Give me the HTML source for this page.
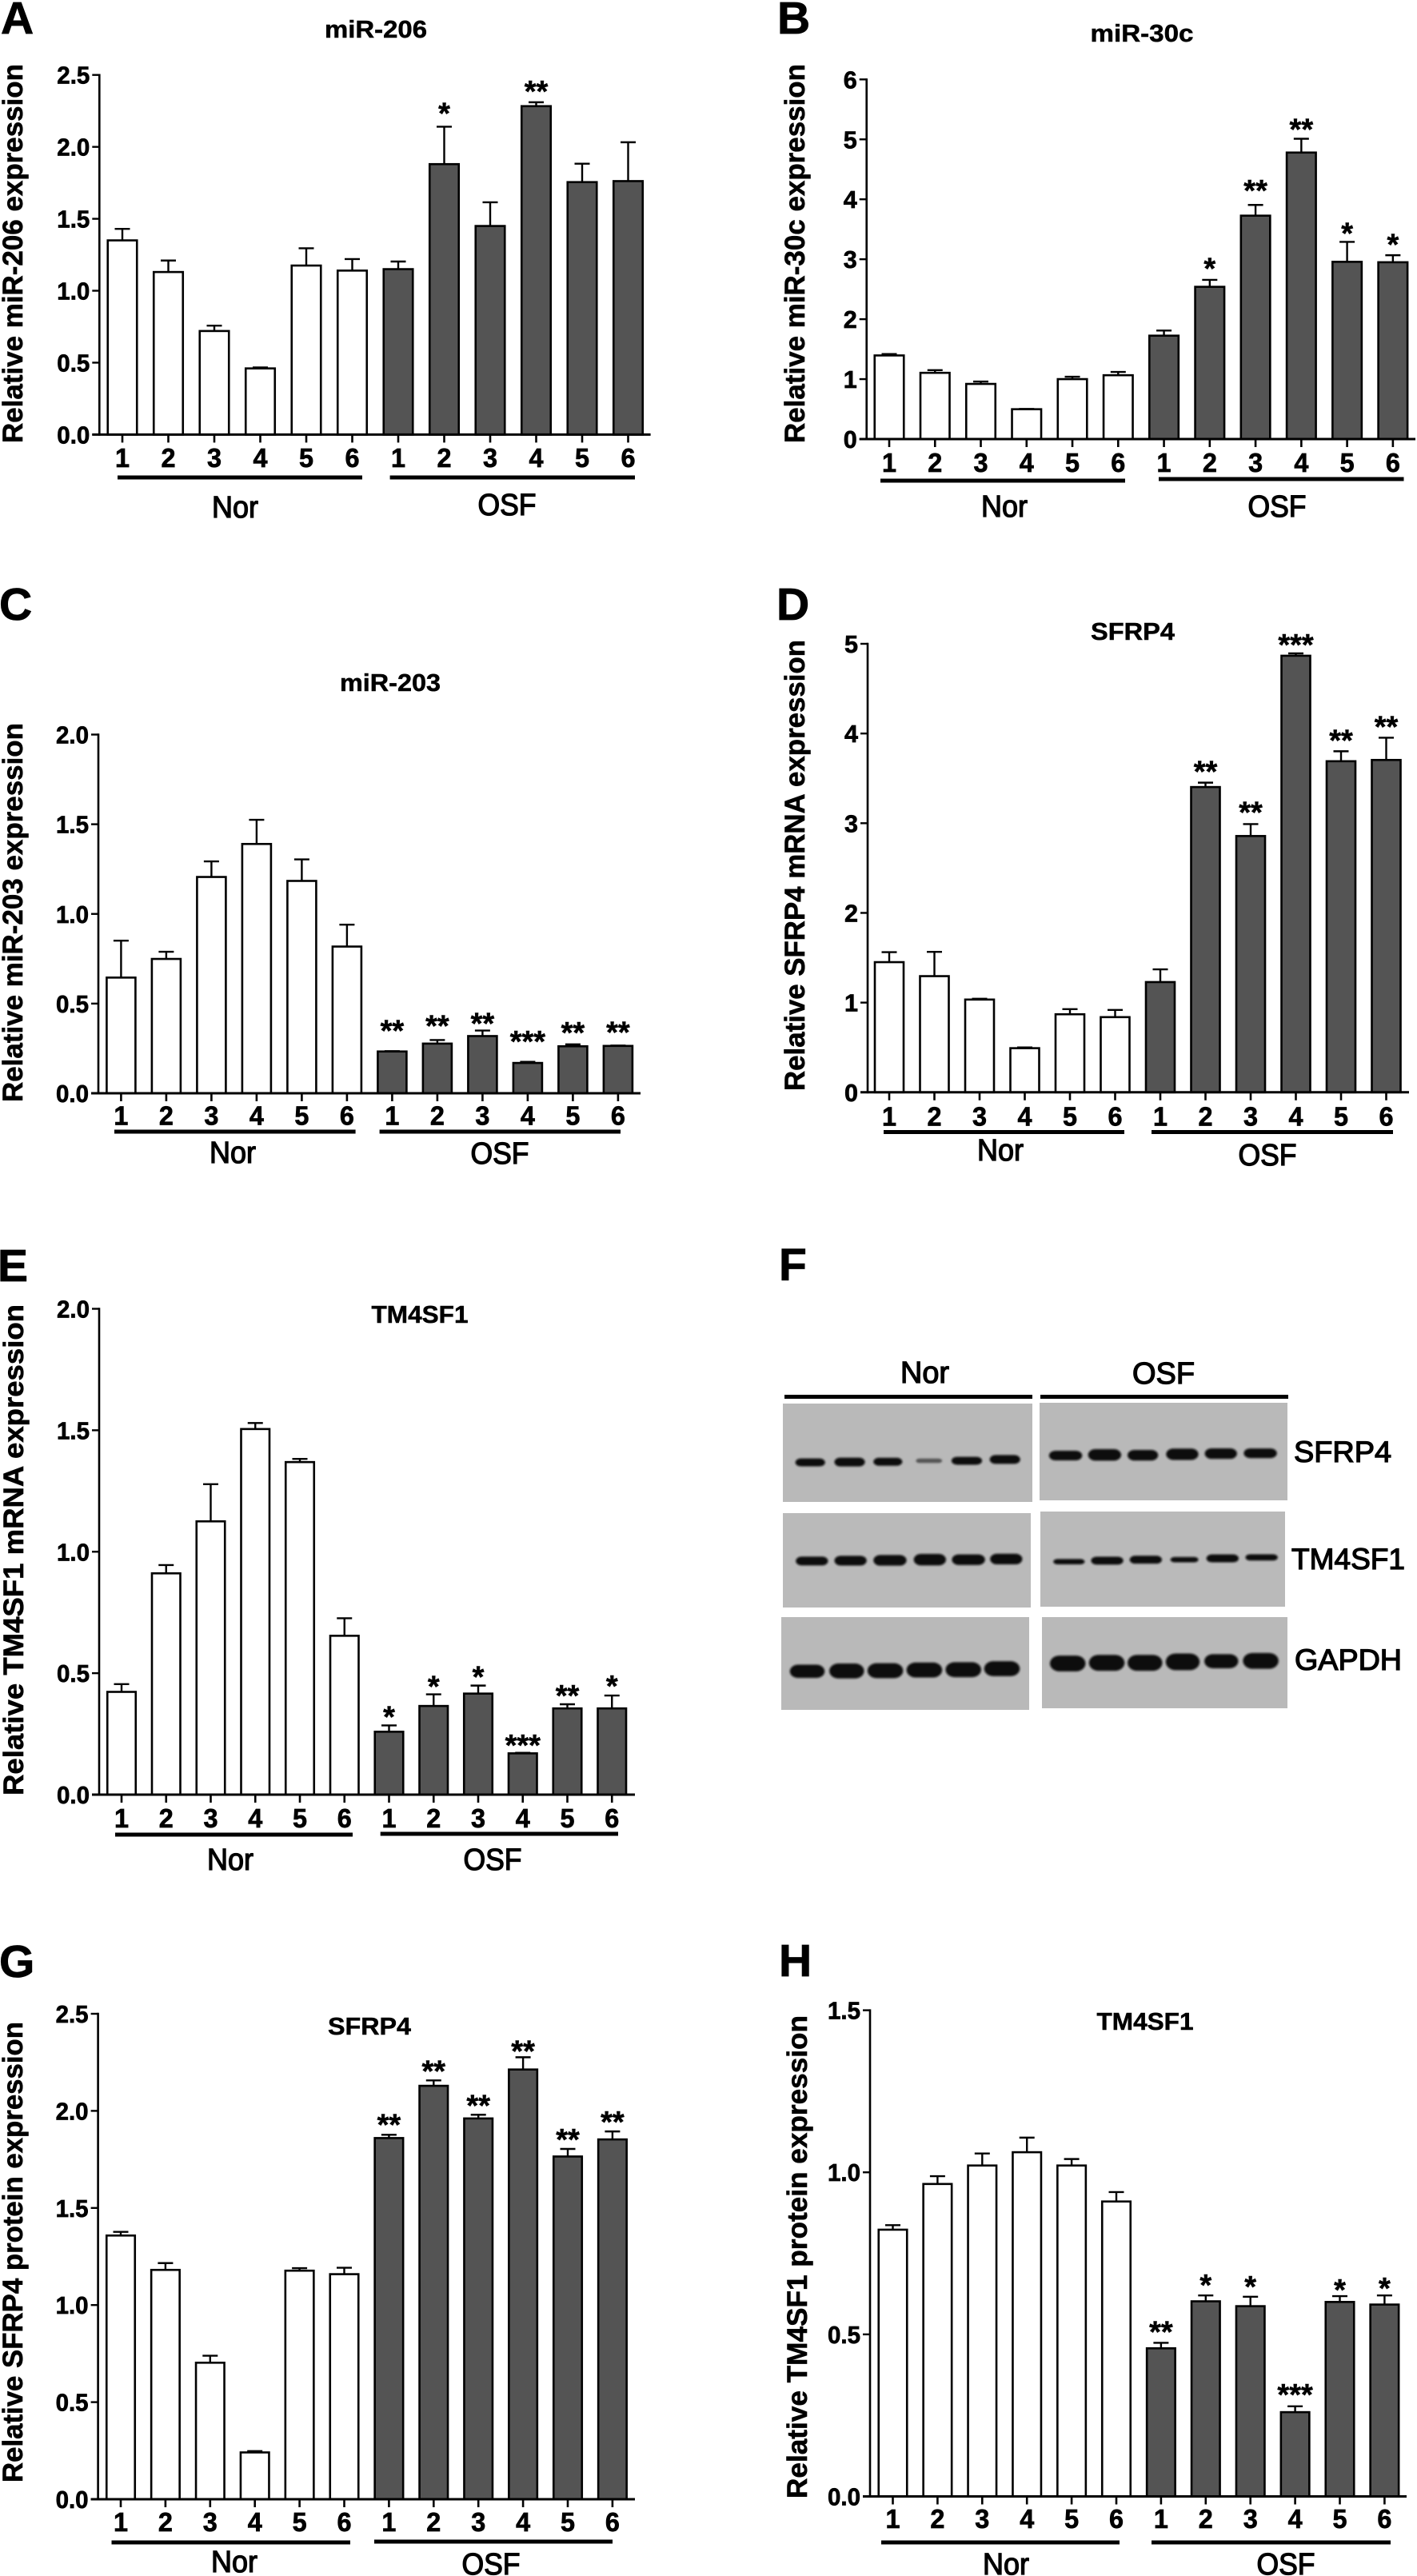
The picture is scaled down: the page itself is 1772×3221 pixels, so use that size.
<!DOCTYPE html>
<html lang="en">
<head>
<meta charset="utf-8">
<title>miRNA and target expression in Nor and OSF samples</title>
<style>
html,body{margin:0;padding:0;background:#fff;}
svg{display:block;}
text{font-family:"Liberation Sans",sans-serif;fill:#000;}
</style>
</head>
<body>
<svg id="figure" xmlns="http://www.w3.org/2000/svg" width="1772" height="3221" viewBox="0 0 1772 3221">
  <rect x="0" y="0" width="1772" height="3221" fill="#ffffff"/>

  <g id="panel-f">
    <text x="974" y="1601" font-size="57" font-weight="700" stroke="#000" stroke-width="0.8">F</text>
    <text x="1126" y="1729" font-size="38" stroke="#000" stroke-width="1.3" textLength="61" lengthAdjust="spacingAndGlyphs">Nor</text>
    <text x="1416" y="1730" font-size="38" stroke="#000" stroke-width="1.3" textLength="78" lengthAdjust="spacingAndGlyphs">OSF</text>
    <rect x="981" y="1744" width="310" height="5" fill="#000"/>
    <rect x="1301" y="1744" width="310" height="5" fill="#000"/>
    <rect x="979" y="1755" width="312" height="123" fill="#b9b9b9"/>
    <rect x="1300" y="1754" width="310" height="122" fill="#b9b9b9"/>
    <rect x="979" y="1892" width="310" height="118" fill="#bababa"/>
    <rect x="1301" y="1890" width="306" height="119" fill="#bababa"/>
    <rect x="977" y="2022" width="310" height="116" fill="#b9b9b9"/>
    <rect x="1303" y="2022" width="307" height="114" fill="#b9b9b9"/>
    <g id="blot-bands" filter="url(#bandBlur)"></g>
    <text x="1618" y="1828" font-size="37" stroke="#000" stroke-width="1.3" textLength="122" lengthAdjust="spacingAndGlyphs">SFRP4</text>
    <text x="1615" y="1962" font-size="37" stroke="#000" stroke-width="1.3" textLength="142" lengthAdjust="spacingAndGlyphs">TM4SF1</text>
    <text x="1619" y="2088" font-size="37" stroke="#000" stroke-width="1.3" textLength="134" lengthAdjust="spacingAndGlyphs">GAPDH</text>
  </g>
  <defs>
    <filter id="bandBlur" x="-10%" y="-10%" width="120%" height="120%"><feGaussianBlur stdDeviation="1.2"/></filter>
  </defs>
</svg>

<script>
// Shared categories
const sampleLabels = ['1','2','3','4','5','6','1','2','3','4','5','6'];

// Panel A: miR-206
const panelAMeans = [1.35,1.13,0.72,0.46,1.175,1.14,1.15,1.88,1.45,2.283,1.755,1.762];
const panelAErrors = [0.08,0.08,0.037,0.007,0.12,0.08,0.053,0.26,0.165,0.027,0.128,0.27];
const panelAStars = ['','','','','','','','*','','**','',''];
const panelATicks = ['0.0','0.5','1.0','1.5','2.0','2.5'];

// Panel B: miR-30c
const panelBMeans = [1.395,1.105,0.92,0.498,1.0,1.065,1.725,2.54,3.727,4.78,2.957,2.95];
const panelBErrors = [0.023,0.045,0.04,0.005,0.04,0.055,0.085,0.116,0.179,0.23,0.333,0.117];
const panelBStars = ['','','','','','','','*','**','**','*','*'];
const panelBTicks = ['0','1','2','3','4','5','6'];

// Panel C: miR-203
const panelCMeans = [0.645,0.749,1.206,1.39,1.184,0.818,0.233,0.277,0.319,0.169,0.262,0.264];
const panelCErrors = [0.206,0.04,0.087,0.135,0.12,0.122,0.002,0.02,0.031,0.006,0.011,0.002];
const panelCStars = ['','','','','','','**','**','**','***','**','**'];
const panelCTicks = ['0.0','0.5','1.0','1.5','2.0'];

// Panel D: SFRP4 mRNA
const panelDMeans = [1.451,1.295,1.034,0.492,0.87,0.838,1.229,3.403,2.857,4.867,3.691,3.705];
const panelDErrors = [0.111,0.271,0.009,0.008,0.057,0.08,0.142,0.049,0.133,0.026,0.111,0.248];
const panelDStars = ['','','','','','','','**','**','***','**','**'];
const panelDTicks = ['0','1','2','3','4','5'];

// Panel E: TM4SF1 mRNA
const panelEMeans = [0.423,0.911,1.125,1.505,1.369,0.654,0.259,0.365,0.416,0.17,0.355,0.355];
const panelEErrors = [0.032,0.034,0.153,0.025,0.013,0.072,0.026,0.048,0.033,0.002,0.017,0.053];
const panelEStars = ['','','','','','','*','*','*','***','**','*'];
const panelETicks = ['0.0','0.5','1.0','1.5','2.0'];

// Panel G: SFRP4 protein
const panelGMeans = [1.358,1.181,0.703,0.241,1.177,1.159,1.86,2.129,1.961,2.213,1.765,1.853];
const panelGErrors = [0.019,0.035,0.036,0.007,0.013,0.033,0.017,0.028,0.019,0.063,0.039,0.041];
const panelGStars = ['','','','','','','**','**','**','**','**','**'];
const panelGTicks = ['0.0','0.5','1.0','1.5','2.0','2.5'];

// Panel H: TM4SF1 protein
const panelHMeans = [0.823,0.964,1.021,1.062,1.021,0.91,0.457,0.602,0.587,0.26,0.6,0.592];
const panelHErrors = [0.014,0.024,0.037,0.045,0.02,0.029,0.017,0.018,0.029,0.018,0.018,0.028];
const panelHStars = ['','','','','','','**','*','*','***','*','*'];
const panelHTicks = ['0.0','0.5','1.0','1.5'];

const SVG_NS = 'http://www.w3.org/2000/svg';
const figure = document.getElementById('figure');

function mk(tag, attrs, parent, txt) {
  const el = document.createElementNS(SVG_NS, tag);
  for (const k in attrs) el.setAttribute(k, attrs[k]);
  if (txt !== undefined) el.textContent = txt;
  parent.appendChild(el);
  return el;
}

function drawPanel(p) {
  const g = mk('g', {}, figure);
  
  

  const tickValues = p.ticks.map(Number);
  const maxTick = Math.max.apply(null, tickValues);
  const xPos = function (i) { return p.x0 + i * p.step; };
  const yPos = function (v) { return p.y0 - (v / maxTick) * (p.y0 - p.yTop); };

  const letter = mk('text', {x: p.letterX, y: p.letterY, 'font-size': 57, 'font-weight': 700, stroke: '#000', 'stroke-width': 0.8}, g, p.letter);
  
  

  const title = mk('text', {x: p.titleX - p.titleLen / 2, y: p.titleY, 'font-size': 31, 'font-weight': 700, stroke: '#000', 'stroke-width': 0.5, textLength: p.titleLen, lengthAdjust: 'spacingAndGlyphs'}, g, p.title);
  
  

  const yTitle = mk('text', {x: p.ylabX, y: p.ylabBottom, 'font-size': 35, 'font-weight': 700, stroke: '#000', 'stroke-width': 0.6, textLength: p.ylabLen, lengthAdjust: 'spacingAndGlyphs', transform: 'rotate(-90 ' + p.ylabX + ' ' + p.ylabBottom + ')'}, g, p.ylabel);
  
  

  // bars and error bars
  p.means.forEach(function (m, i) {
    const cx = xPos(i);
    const top = yPos(m + p.errors[i]);
    const capHalf = 9.5;
    const stem = mk('line', {x1: cx, x2: cx, y1: yPos(m), y2: top, stroke: '#000', 'stroke-width': 2.4}, g);
    
    
    const cap = mk('line', {x1: cx - capHalf, x2: cx + capHalf, y1: top, y2: top, stroke: '#000', 'stroke-width': 2.4}, g);
    
    
    const bar = mk('rect', {x: cx - p.barW / 2, y: yPos(m), width: p.barW, height: p.y0 - yPos(m), fill: i < 6 ? '#ffffff' : '#545454', stroke: '#000', 'stroke-width': 2.6}, g);
    
    

    const tick = mk('line', {x1: cx, x2: cx, y1: p.y0, y2: p.y0 + 10, stroke: '#000', 'stroke-width': 2.6}, g);
    
    
    const lab = mk('text', {x: cx - 9, y: p.digitY + 1, 'font-size': 33, 'font-weight': 700, stroke: '#000', 'stroke-width': 0.7, textLength: 18, lengthAdjust: 'spacingAndGlyphs'}, g, sampleLabels[i]);
    
    

    if (p.stars[i]) {
      const lift = p.starLift[i];
      const star = mk('text', {x: cx, y: top - lift + 18, 'font-size': 38, 'font-weight': 700, stroke: '#000', 'stroke-width': 0.5, 'text-anchor': 'middle'}, g, p.stars[i]);
      
      
    }
  });

  // axes
  const yAxis = mk('line', {x1: p.axisX, x2: p.axisX, y1: p.yTop - 1.2, y2: p.y0 + 1.3, stroke: '#000', 'stroke-width': 2.6}, g);
  
  
  const xAxis = mk('line', {x1: p.axisX - 9, x2: p.axisEnd, y1: p.y0, y2: p.y0, stroke: '#000', 'stroke-width': 3}, g);
  
  

  p.ticks.forEach(function (t, i) {
    const y = yPos(tickValues[i]);
    const tick = mk('line', {x1: p.axisX - 9, x2: p.axisX, y1: y, y2: y, stroke: '#000', 'stroke-width': 2.4}, g);
    
    
    const labLen = t.length > 1 ? 41 : 17;
    const lab = mk('text', {x: p.axisX - 12 - labLen, y: y + 11, 'font-size': 31, 'font-weight': 700, stroke: '#000', 'stroke-width': 0.7, textLength: labLen, lengthAdjust: 'spacingAndGlyphs'}, g, t);
    
    
  });

  // group brackets and labels
  const norLine = mk('rect', {x: p.norLine[0], y: p.norLine[2] - 2.5, width: p.norLine[1] - p.norLine[0], height: 5, fill: '#000'}, g);
  
  
  const osfLine = mk('rect', {x: p.osfLine[0], y: p.osfLine[2] - 2.5, width: p.osfLine[1] - p.osfLine[0], height: 5, fill: '#000'}, g);
  
  
  const norLab = mk('text', {x: p.norLab[0] - 29, y: p.norLab[1], 'font-size': 38, stroke: '#000', 'stroke-width': 1.3, textLength: 58, lengthAdjust: 'spacingAndGlyphs'}, g, 'Nor');
  
  
  const osfLab = mk('text', {x: p.osfLab[0] - 36.5, y: p.osfLab[1], 'font-size': 38, stroke: '#000', 'stroke-width': 1.3, textLength: 73, lengthAdjust: 'spacingAndGlyphs'}, g, 'OSF');
  
  
}

drawPanel({letter:'A', letterX:1, letterY:42, title:'miR-206', titleX:470, titleY:47, titleLen:128,
  ylabel:'Relative miR-206 expression', ylabX:28, ylabBottom:554, ylabLen:474,
  means:panelAMeans, errors:panelAErrors, stars:panelAStars, ticks:panelATicks,
  starLift:[0,0,0,0,0,0,0,22,0,19,0,0],
  axisX:124.3, axisEnd:813.6, yTop:93.7, y0:543.4, x0:153, step:57.5, barW:36.5, digitY:583,
  norLine:[147,453,597], osfLine:[487.6,794,597], norLab:[294,647], osfLab:[634,644]});

drawPanel({letter:'B', letterX:972, letterY:42, title:'miR-30c', titleX:1428, titleY:52, titleLen:129,
  ylabel:'Relative miR-30c expression', ylabX:1006, ylabBottom:554, ylabLen:474,
  means:panelBMeans, errors:panelBErrors, stars:panelBStars, ticks:panelBTicks,
  starLift:[0,0,0,0,0,0,0,19.5,23,17,16,18.6],
  axisX:1083.7, axisEnd:1770, yTop:99.3, y0:549, x0:1112, step:57.26, barW:36.5, digitY:589,
  norLine:[1101,1407,601], osfLine:[1449,1755.5,599], norLab:[1256,646], osfLab:[1597,646]});

drawPanel({letter:'C', letterX:-1, letterY:775, title:'miR-203', titleX:488, titleY:864, titleLen:126,
  ylabel:'Relative miR-203 expression', ylabX:28, ylabBottom:1378, ylabLen:474,
  means:panelCMeans, errors:panelCErrors, stars:panelCStars, ticks:panelCTicks,
  starLift:[0,0,0,0,0,0,31,23,14,31,20,22],
  axisX:123, axisEnd:801, yTop:918.5, y0:1367, x0:151.4, step:56.5, barW:36, digitY:1405.6,
  norLine:[143,444.6,1415], osfLine:[474.6,776,1415], norLab:[291,1454], osfLab:[625,1455]});

drawPanel({letter:'D', letterX:971, letterY:775, title:'SFRP4', titleX:1416.5, titleY:800, titleLen:105,
  ylabel:'Relative SFRP4 mRNA expression', ylabX:1006, ylabBottom:1364, ylabLen:564,
  means:panelDMeans, errors:panelDErrors, stars:panelDStars, ticks:panelDTicks,
  starLift:[0,0,0,0,0,0,0,19,20,16,19,19],
  axisX:1085, axisEnd:1762, yTop:805, y0:1365.8, x0:1112, step:56.5, barW:36, digitY:1406.6,
  norLine:[1105,1406,1415.5], osfLine:[1440,1742,1415.5], norLab:[1251,1451], osfLab:[1585,1457]});

drawPanel({letter:'E', letterX:-3, letterY:1602, title:'TM4SF1', titleX:525, titleY:1654, titleLen:121,
  ylabel:'Relative TM4SF1 mRNA expression', ylabX:29, ylabBottom:2245, ylabLen:614,
  means:panelEMeans, errors:panelEErrors, stars:panelEStars, ticks:panelETicks,
  starLift:[0,0,0,0,0,0,16,15,16,15,16,17],
  axisX:124, axisEnd:794, yTop:1636.5, y0:2244, x0:152, step:55.75, barW:35.5, digitY:2284,
  norLine:[144,441,2294], osfLine:[475.7,773,2293], norLab:[288,2338], osfLab:[616,2338]});

drawPanel({letter:'G', letterX:-1, letterY:2472, title:'SFRP4', titleX:462, titleY:2544, titleLen:104,
  ylabel:'Relative SFRP4 protein expression', ylabX:28, ylabBottom:3104, ylabLen:576,
  means:panelGMeans, errors:panelGErrors, stars:panelGStars, ticks:panelGTicks,
  starLift:[0,0,0,0,0,0,18,17,17,13,17,17],
  axisX:122.6, axisEnd:794, yTop:2518, y0:3125, x0:151, step:55.9, barW:35.5, digitY:3164,
  norLine:[139.5,438,3179], osfLine:[468,766,3178], norLab:[293,3216], osfLab:[614,3219]});

drawPanel({letter:'H', letterX:974, letterY:2471, title:'TM4SF1', titleX:1432, titleY:2538, titleLen:121,
  ylabel:'Relative TM4SF1 protein expression', ylabX:1009, ylabBottom:3124, ylabLen:604,
  means:panelHMeans, errors:panelHErrors, stars:panelHStars, ticks:panelHTicks,
  starLift:[0,0,0,0,0,0,19,18,18,20,13,14],
  axisX:1088, axisEnd:1759, yTop:2513.6, y0:3121.5, x0:1116.5, step:55.9, barW:35.5, digitY:3160,
  norLine:[1102,1400,3179], osfLine:[1440,1739,3179], norLab:[1258,3219], osfLab:[1608,3219]});

// Western-blot bands: thickness and width of each lane, per membrane
const blotRows = [
  {xs:[138,231,321,418,507,597], ys:[707,706,705,702,702,698], ws:[70,72,68,62,72,72], hs:[18,20,18,10,18,20]},
  {xs:[740,832,922,1015,1106,1199], ys:[686,684,685,682,680,679], ws:[78,78,72,76,76,78], hs:[22,26,24,26,24,22]},
  {xs:[142,233,326,420,511,600], ys:[1009,1008,1007,1005,1005,1003], ws:[76,76,78,76,78,76], hs:[20,22,24,26,24,24]},
  {xs:[748,838,929,1020,1110,1202], ys:[1011,1008,1005,1005,1001,998], ws:[74,76,76,66,76,76], hs:[12,18,18,12,18,14]},
  {xs:[131,224,315,407,499,590], ys:[1347,1346,1345,1343,1342,1339], ws:[82,82,84,84,84,84], hs:[30,34,34,34,34,34]},
  {xs:[745,837,927,1016,1107,1200], ys:[1323,1321,1321,1318,1316,1315], ws:[84,84,82,80,80,84], hs:[36,36,36,38,32,36]}
];
const bandLayer = document.getElementById('blot-bands');
blotRows.forEach(function (row) {
  row.xs.forEach(function (vx, i) {
    const w = row.ws[i] / 1.885;
    const h = row.hs[i] / 2.45 * 1.35;
    const band = mk('rect', {x: 940 + vx / 1.885 - w / 2, y: 1540 + row.ys[i] / 2.45 - h / 2, width: w, height: h, rx: Math.min(w / 2, h / 2 + 2), ry: h / 2, fill: row.hs[i] <= 10 ? '#555' : '#111'}, bandLayer);
    
    
  });
});
</script>
</body>
</html>
